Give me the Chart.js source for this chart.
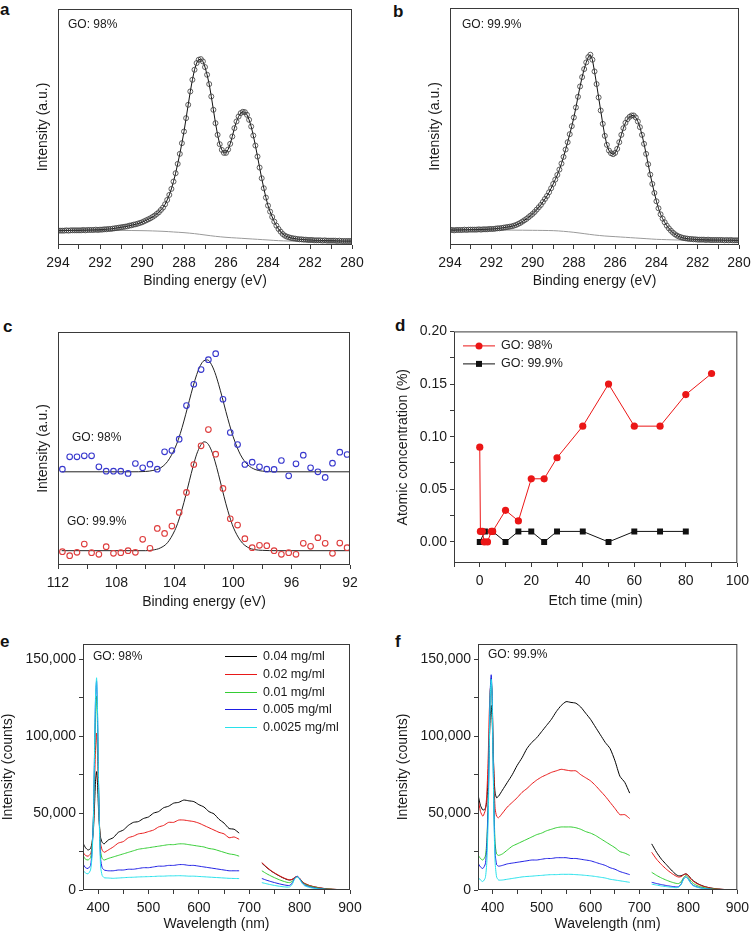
<!DOCTYPE html>
<html>
<head>
<meta charset="utf-8">
<script src="https://cdn.jsdelivr.net/npm/chart.js@4.4.1/dist/chart.umd.min.js"></script>
<style>
  body { margin: 0; background: #fff; }
  #fig { position: relative; width: 755px; height: 936px; overflow: hidden; }
  canvas { position: absolute; }
  .lbl { position: absolute; font: bold 17px 'Liberation Sans', Arial, sans-serif; line-height: 17px; color: #111; }
</style>
</head>
<body>
<div id="fig">
  <div class="lbl" style="left:0;top:1px">a</div>
  <div class="lbl" style="left:393px;top:3px">b</div>
  <div class="lbl" style="left:3px;top:318px">c</div>
  <div class="lbl" style="left:395px;top:317px">d</div>
  <div class="lbl" style="left:0;top:633px">e</div>
  <div class="lbl" style="left:395px;top:633px">f</div>
  <canvas id="ca" width="340" height="290" style="left:35px;top:0"></canvas>
  <canvas id="cb" width="328" height="290" style="left:427px;top:0"></canvas>
  <canvas id="cc" width="340" height="291" style="left:35px;top:320px"></canvas>
  <canvas id="cd" width="360" height="290" style="left:395px;top:320px"></canvas>
  <canvas id="ce" width="380" height="303" style="left:0;top:630px"></canvas>
  <canvas id="cf" width="360" height="303" style="left:395px;top:630px"></canvas>
</div>
<script>
// ---- a / b : C 1s XPS (binding energy grid, 0.1 eV) ----
const beGrid = [
  294,293.9,293.8,293.7,293.6,293.5,293.4,293.3,293.2,293.1,
  293,292.9,292.8,292.7,292.6,292.5,292.4,292.3,292.2,292.1,
  292,291.9,291.8,291.7,291.6,291.5,291.4,291.3,291.2,291.1,
  291,290.9,290.8,290.7,290.6,290.5,290.4,290.3,290.2,290.1,
  290,289.9,289.8,289.7,289.6,289.5,289.4,289.3,289.2,289.1,
  289,288.9,288.8,288.7,288.6,288.5,288.4,288.3,288.2,288.1,
  288,287.9,287.8,287.7,287.6,287.5,287.4,287.3,287.2,287.1,
  287,286.9,286.8,286.7,286.6,286.5,286.4,286.3,286.2,286.1,
  286,285.9,285.8,285.7,285.6,285.5,285.4,285.3,285.2,285.1,
  285,284.9,284.8,284.7,284.6,284.5,284.4,284.3,284.2,284.1,
  284,283.9,283.8,283.7,283.6,283.5,283.4,283.3,283.2,283.1,
  283,282.9,282.8,282.7,282.6,282.5,282.4,282.3,282.2,282.1,
  282,281.9,281.8,281.7,281.6,281.5,281.4,281.3,281.2,281.1,
  281,280.9,280.8,280.7,280.6,280.5,280.4,280.3,280.2,280.1,
  280];
const aC1s = [
  0.43,0.43,0.43,0.43,0.44,0.43,0.44,0.44,0.44,0.44,
  0.44,0.44,0.45,0.44,0.45,0.45,0.45,0.45,0.46,0.45,
  0.46,0.46,0.47,0.47,0.48,0.48,0.49,0.50,0.51,0.52,
  0.53,0.54,0.55,0.56,0.58,0.59,0.61,0.62,0.64,0.66,
  0.68,0.71,0.74,0.77,0.80,0.84,0.88,0.93,0.98,1.05,
  1.12,1.22,1.35,1.50,1.68,1.90,2.15,2.43,2.73,3.05,
  3.40,3.80,4.20,4.60,4.95,5.25,5.45,5.55,5.57,5.50,
  5.33,5.10,4.82,4.45,4.05,3.65,3.30,3.02,2.85,2.76,
  2.76,2.86,3.03,3.25,3.50,3.70,3.85,3.95,3.99,3.98,
  3.90,3.75,3.55,3.28,2.98,2.65,2.32,2.00,1.70,1.42,
  1.18,1.00,0.84,0.70,0.58,0.48,0.40,0.33,0.28,0.25,
  0.23,0.21,0.20,0.19,0.18,0.17,0.17,0.16,0.16,0.15,
  0.15,0.15,0.14,0.14,0.14,0.14,0.13,0.14,0.13,0.13,
  0.13,0.13,0.13,0.12,0.13,0.12,0.12,0.12,0.12,0.12,
  0.12];
const bC1s = [
  0.45,0.45,0.44,0.45,0.45,0.45,0.45,0.46,0.45,0.46,
  0.46,0.46,0.46,0.46,0.47,0.46,0.47,0.47,0.47,0.48,
  0.48,0.48,0.49,0.50,0.50,0.51,0.52,0.53,0.54,0.55,
  0.56,0.58,0.60,0.63,0.66,0.70,0.74,0.78,0.83,0.88,
  0.93,0.99,1.06,1.13,1.20,1.29,1.38,1.47,1.58,1.70,
  1.83,1.96,2.10,2.26,2.44,2.64,2.86,3.08,3.32,3.56,
  3.82,4.12,4.44,4.75,5.03,5.27,5.47,5.63,5.70,5.55,
  5.20,4.82,4.42,4.03,3.63,3.27,3.00,2.83,2.75,2.72,
  2.76,2.88,3.08,3.30,3.50,3.66,3.77,3.84,3.88,3.88,
  3.82,3.70,3.53,3.30,3.03,2.73,2.42,2.11,1.83,1.56,
  1.31,1.10,0.92,0.79,0.68,0.58,0.50,0.43,0.37,0.32,
  0.28,0.25,0.23,0.21,0.20,0.19,0.18,0.18,0.17,0.17,
  0.16,0.16,0.16,0.16,0.15,0.16,0.15,0.15,0.15,0.15,
  0.15,0.15,0.15,0.14,0.15,0.14,0.15,0.14,0.14,0.14,
  0.14];
// background (Shirley) lines
const bgBE = [294,292,290,289,288.5,288,287.5,287,286.5,286,285.5,285,284.5,284,283.5,283,282,281,280];
const aBg = [0.44,0.44,0.43,0.41,0.39,0.37,0.34,0.30,0.26,0.23,0.21,0.19,0.17,0.15,0.13,0.12,0.11,0.10,0.10];
const bBg = [0.45,0.45,0.44,0.43,0.41,0.38,0.34,0.30,0.27,0.25,0.23,0.21,0.19,0.17,0.16,0.15,0.14,0.13,0.13];
const abTicks = [280,281,282,283,284,285,286,287,288,289,290,291,292,293,294];

// ---- c : Si 2p ----
const cBE = [111.7,111.2,110.7,110.2,109.7,109.2,108.7,108.2,107.7,107.2,106.7,106.2,105.7,105.2,104.7,104.2,103.7,103.2,102.7,102.2,
             101.7,101.2,100.7,100.2,99.7,99.2,98.7,98.2,97.7,97.2,96.7,96.2,95.7,95.2,94.7,94.2,93.7,93.2,92.7,92.2];
const c98 = [2.88,3.25,3.25,3.28,3.28,2.95,2.82,2.82,2.82,2.75,3.05,2.92,3.03,2.88,3.40,3.44,3.78,4.79,5.43,5.87,
             6.17,6.35,4.98,3.98,3.62,3.02,3.09,2.95,2.88,2.87,3.14,2.68,3.04,3.30,2.92,2.80,2.63,3.06,3.39,3.32];
const c999 = [0.40,0.28,0.38,0.63,0.37,0.32,0.55,0.35,0.37,0.43,0.38,0.77,0.50,1.10,0.95,1.17,1.58,2.18,3.02,3.58,
              4.07,3.33,2.30,1.39,1.20,0.79,0.52,0.59,0.58,0.43,0.32,0.37,0.32,0.65,0.56,0.82,0.65,0.35,0.66,0.52];
const cFitBE = [111.75,107,106,105.5,105,104.5,104,103.75,103.5,103.25,103,102.75,102.5,102.25,102,101.75,101.5,101.25,101,
                100.75,100.5,100.25,100,99.5,99,98.5,98,97,92];
const cFit98 = [2.80,2.80,2.81,2.84,2.91,3.11,3.50,3.78,4.13,4.53,4.95,5.36,5.72,5.99,6.14,6.16,6.03,5.78,5.43,
                5.03,4.61,4.21,3.85,3.31,3.01,2.87,2.82,2.80,2.80];
const cFit999 = [0.43,0.43,0.43,0.45,0.51,0.67,1.04,1.32,1.68,2.09,2.53,2.96,3.33,3.58,3.70,3.65,3.45,3.12,2.71,
                 2.27,1.84,1.46,1.14,0.73,0.53,0.46,0.44,0.43,0.43];
const cTicks = [92,94,96,98,100,102,104,106,108,110,112];

// ---- d : atomic concentration vs etch time ----
const dTime98 = [0,0.25,1,1.75,3,4.5,5,10,15,20,25,30,40,50,60,70,80,90];
const dConc98 = [0.09,0.01,0.01,0,0,0.01,0.01,0.03,0.02,0.06,0.06,0.08,0.11,0.15,0.11,0.11,0.14,0.16];
const dTime999 = [0,2,5,10,15,20,25,30,40,50,60,70,80];
const dConc999 = [0,0.01,0.01,0,0.01,0.01,0,0.01,0.01,0,0.01,0.01,0.01];
const dXTicks = [-10,0,10,20,30,40,50,60,70,80,90,100];
const dYTicks = [0,0.025,0.05,0.075,0.1,0.125,0.15,0.175,0.2];

// ---- e / f : emission spectra ----
const wl1 = [370,375,380,385,388,391,393,395,397,399,401,403,405,408,412,420,
             430,440,450,460,470,480,490,500,510,520,530,540,550,560,570,580,590,600,610,620,630,640,650,660,670,680];
const wl2 = [725,735,745,755,765,775,780,785,790,795,800,805,810,820,830,840,850,860,870,880,890,900];
const concLabels = ['0.04 mg/ml','0.02 mg/ml','0.01 mg/ml','0.005 mg/ml','0.0025 mg/ml'];
const concColors = ['#000000','rgb(232,24,24)','rgb(52,205,52)','rgb(30,30,228)','rgb(40,225,235)'];

const eBlack1 = [30500,27500,26000,27000,31000,41000,56000,72000,77000,68000,51000,40000,34000,31000,30000,32500,
  34000,37500,39000,42000,44000,44500,46500,47500,50000,51000,53500,54500,56500,57000,58500,58000,57500,55500,54000,51000,49500,46000,43500,40000,39500,37000];
const eRed1 = [24500,22500,22000,23500,28000,45000,70000,93000,102000,86000,60000,40000,30000,26000,24500,26000,
  28000,30500,31500,34000,35000,36500,37000,38000,39000,41000,42000,44000,44000,45500,45500,45000,44500,43500,42000,40500,39000,37500,36500,34000,34500,33000];
const eGreen1 = [22500,20000,19500,21000,28000,50000,85000,115000,126000,104000,66000,40000,25000,20500,19500,20500,
  21500,22500,23500,24500,25500,26500,27000,27500,28000,28500,29000,29500,29500,30000,30000,29500,29000,28500,28000,27000,26500,25500,24500,23500,23000,22000];
const eBlue1 = [17000,14500,14000,16000,25000,52000,92000,126000,136000,112000,68000,38000,20000,14500,13000,12500,
  12500,13000,13000,13500,13500,14000,14500,14500,15000,15500,15500,16000,16000,16500,16500,16000,16000,15500,15000,14500,14000,13500,13000,12500,12500,12500];
const eCyan1 = [13000,11000,10500,13000,22000,50000,92000,128000,138000,114000,66000,34000,15000,9500,8000,7800,
  7600,7800,8000,8200,8300,8500,8600,8700,8800,9000,9000,9200,9200,9300,9200,9000,9000,8800,8600,8400,8200,8000,7800,7600,7500,7400];
const eBlack2 = [17500,14500,12000,10000,8200,6800,6500,6800,8000,8800,7500,5500,4200,2800,2000,1400,900,600,400,200,100,0];
const eRed2 = [17800,14800,12200,10200,8400,7000,6600,6900,8100,8900,7600,5600,4300,2900,2000,1400,900,600,400,200,100,0];
const eGreen2 = [12500,10500,8800,7300,6000,5000,4800,5500,7500,8800,7300,5200,3800,2500,1700,1100,700,500,300,200,100,0];
const eBlue2 = [7500,6300,5300,4400,3600,3000,3000,4300,7500,9000,7400,4800,3200,2000,1300,800,500,300,200,100,50,0];
const eCyan2 = [4800,4000,3300,2700,2200,1900,2000,3500,7000,8700,7000,4300,2700,1600,1000,600,400,200,100,100,0,0];

const fBlack1 = [62000,55000,52000,53000,58000,75000,95000,112000,120000,110000,90000,72000,63000,60000,61000,65000,
  70000,75000,81000,86000,92000,96000,99000,103000,107000,111000,116000,120000,122500,122000,121500,119000,115000,111000,106000,101000,96000,92000,84000,74000,70000,63000];
const fRed1 = [60000,51000,48000,52000,62000,88000,115000,130000,135000,125000,95000,68000,53000,48000,47000,50000,
  54000,57000,60000,63500,66000,69000,71500,73500,75000,76500,77500,78500,78000,77500,77500,75000,73000,71000,68000,64500,61000,57000,53000,49000,49000,46500];
const fGreen1 = [23000,20500,19500,22000,32000,60000,98000,128000,138000,125000,85000,50000,30000,23500,22500,23500,
  26000,28500,30000,31500,33000,34500,36000,37000,38500,39500,40500,41000,41000,41000,40500,39500,38000,37000,35500,33500,31500,29500,27500,25000,24000,22500];
const fBlue1 = [17500,15000,14000,17000,28000,58000,98000,130000,140000,126000,84000,46000,24000,16500,15500,16000,
  17000,17500,18000,18500,19000,19500,19500,20000,20500,20500,21000,21000,21000,20500,20500,20000,19500,19000,18000,17000,16000,14500,13500,12000,11000,10000];
const fCyan1 = [8500,6500,5500,8000,18000,48000,90000,126000,137000,124000,80000,40000,18000,8500,6500,6500,
  7000,7500,8000,8500,8800,9000,9300,9500,9800,10000,10000,10200,10200,10200,10000,9800,9500,9200,8800,8300,7800,7000,6500,6000,5500,5000];
const fBlack2 = [30000,24500,20000,16500,13000,10000,9200,9200,10000,10500,9500,7500,6000,4000,2600,1700,1100,700,400,200,100,0];
const fRed2 = [24500,20000,16500,13500,11000,9000,8400,8700,9800,10500,9300,7200,5600,3700,2400,1600,1000,600,400,200,100,0];
const fGreen2 = [11500,9500,7800,6400,5200,4300,4200,5300,8000,9500,8000,5800,4200,2600,1700,1100,700,400,300,200,100,0];
const fBlue2 = [5000,4200,3500,2900,2400,2000,2200,3800,7200,8600,7000,4600,3000,1800,1100,700,400,300,200,100,50,0];
const fCyan2 = [3800,3200,2600,2200,1800,1500,1800,3400,6800,8300,6800,4300,2700,1600,1000,600,300,200,100,100,0,0];

const wlTicks = [400,450,500,550,600,650,700,750,800,850,900];
const intTicks = [0,25000,50000,75000,100000,125000,150000];

// ---------------------------------------------------------------
const FONT = "'Liberation Sans', Arial, Helvetica, sans-serif";
const AX = '#3a3a3a';
const TXT = '#1a1a1a';
Chart.defaults.font.family = FONT;
Chart.defaults.color = TXT;

const toPts = (xs, ys) => xs.map((x, i) => ({ x: x, y: ys[i] }));
const spectrum = (a, b) => toPts(wl1, a).concat([{ x: 700, y: null }], toPts(wl2, b));

// box around plot + in-plot texts and hand-drawn keys
const framePlugin = {
  id: 'frame',
  afterDraw(chart, args, opts) {
    const { ctx, chartArea: a } = chart;
    ctx.save();
    ctx.strokeStyle = AX;
    ctx.lineWidth = 1;
    ctx.strokeRect(a.left + 0.5, a.top + 0.5, a.right - a.left - 1, a.bottom - a.top - 1);
    ctx.fillStyle = TXT;
    ctx.textBaseline = 'middle';
    (opts.notes || []).forEach(n => {
      ctx.font = (n.size || 12) + 'px ' + FONT;
      ctx.fillText(n.text, a.left + n.dx, a.top + n.dy);
    });
    (opts.keys || []).forEach(k => {
      const y = a.top + k.dy + 0.5;
      ctx.strokeStyle = k.color;
      ctx.lineWidth = 1;
      ctx.beginPath();
      ctx.moveTo(a.left + k.dx, y);
      ctx.lineTo(a.left + k.dx + k.len, y);
      ctx.stroke();
      ctx.fillStyle = k.color;
      const mx = a.left + k.dx + k.len / 2;
      if (k.marker === 'circle') { ctx.beginPath(); ctx.arc(mx, y, 3.5, 0, Math.PI * 2); ctx.fill(); }
      if (k.marker === 'rect') ctx.fillRect(mx - 3, y - 3, 6, 6);
      ctx.fillStyle = TXT;
      ctx.font = '12.5px ' + FONT;
      ctx.fillText(k.text, a.left + k.dx + k.len + 6, y);
    });
    ctx.restore();
  }
};
Chart.register(framePlugin);

function xAxis(min, max, ticks, show, title, h, reverse) {
  return {
    type: 'linear', min: min, max: max, reverse: !!reverse,
    afterFit: s => { s.height = h; },
    afterBuildTicks: s => { s.ticks = ticks.map(v => ({ value: v })); },
    grid: { drawOnChartArea: false, tickLength: 4, color: AX },
    border: { display: false },
    ticks: { autoSkip: false, maxRotation: 0, padding: 6, color: TXT, font: { size: 14 }, callback: show },
    title: { display: true, text: title, padding: 0, color: TXT, font: { size: 14 } }
  };
}
function yAxis(min, max, ticks, show, title, w) {
  const ax = {
    type: 'linear', min: min, max: max,
    afterFit: s => { s.width = w; },
    border: { display: false },
    title: { display: true, text: title, padding: 0, color: TXT, font: { size: 14 } }
  };
  if (ticks) {
    ax.afterBuildTicks = s => { s.ticks = ticks.map(v => ({ value: v })); };
    ax.grid = { drawOnChartArea: false, tickLength: 4, color: AX };
    ax.ticks = { autoSkip: false, padding: 3, color: TXT, font: { size: 14 }, callback: show };
  } else {
    ax.grid = { display: false };
    ax.ticks = { display: false };
  }
  return ax;
}
function makeChart(id, datasets, scales, padding, frame) {
  return new Chart(document.getElementById(id), {
    type: 'line',
    data: { datasets: datasets },
    options: {
      responsive: false, animation: false, events: [],
      layout: { padding: padding },
      plugins: { legend: { display: false }, tooltip: { enabled: false }, frame: frame },
      scales: scales
    }
  });
}

const evenLabel = v => (v % 2 === 0 ? String(v) : '');

// a, b
function xpsSets(vals, bg) {
  return [
    { data: toPts(beGrid, vals), borderColor: '#111', borderWidth: 1, pointStyle: 'circle', pointRadius: 2.5,
      pointBorderColor: '#383838', pointBorderWidth: 0.8, pointBackgroundColor: 'rgba(0,0,0,0)', tension: 0 },
    { data: toPts(bgBE, bg), borderColor: '#9a9a9a', borderWidth: 1, pointRadius: 0, tension: 0.3 }
  ];
}
makeChart('ca', xpsSets(aC1s, aBg), {
  x: xAxis(280, 294, abTicks, evenLabel, 'Binding energy (eV)', 45, true),
  y: yAxis(0, 7.07, null, null, 'Intensity (a.u.)', 23)
}, { left: 0, top: 9, right: 23, bottom: 0 }, { notes: [{ text: 'GO: 98%', dx: 10, dy: 16 }] });

makeChart('cb', xpsSets(bC1s, bBg), {
  x: xAxis(280, 294, abTicks, evenLabel, 'Binding energy (eV)', 45, true),
  y: yAxis(0, 7.1, null, null, 'Intensity (a.u.)', 23)
}, { left: 0, top: 8, right: 16, bottom: 0 }, { notes: [{ text: 'GO: 99.9%', dx: 12, dy: 17 }] });

// c
const ring = c => ({ showLine: false, pointStyle: 'circle', pointRadius: 2.8, pointBorderWidth: 1.1,
  pointBorderColor: c, pointBackgroundColor: 'rgba(0,0,0,0)' });
makeChart('cc', [
  Object.assign({ data: toPts(cBE, c98) }, ring('rgb(55,55,205)')),
  Object.assign({ data: toPts(cBE, c999) }, ring('rgb(222,60,60)')),
  { data: toPts(cFitBE, cFit98), borderColor: '#222', borderWidth: 1, pointRadius: 0, cubicInterpolationMode: 'monotone' },
  { data: toPts(cFitBE, cFit999), borderColor: '#222', borderWidth: 1, pointRadius: 0, cubicInterpolationMode: 'monotone' }
], {
  x: xAxis(92, 112, cTicks, v => (v % 4 === 0 ? String(v) : ''), 'Binding energy (eV)', 46, true),
  y: yAxis(0, 7, null, null, 'Intensity (a.u.)', 23)
}, { left: 0, top: 12, right: 25, bottom: 0 }, {
  notes: [{ text: 'GO: 98%', dx: 14, dy: 106 }, { text: 'GO: 99.9%', dx: 9, dy: 190 }]
});

// d
makeChart('cd', [
  { data: toPts(dTime98, dConc98), borderColor: 'rgb(235,22,22)', backgroundColor: 'rgb(235,22,22)', borderWidth: 1,
    pointStyle: 'circle', pointRadius: 3.6, pointBorderWidth: 0 },
  { data: toPts(dTime999, dConc999), borderColor: '#111', backgroundColor: '#111', borderWidth: 1,
    pointStyle: 'rect', pointRadius: 4.2, pointBorderWidth: 0 }
], {
  x: xAxis(-10, 100, dXTicks, v => (v % 20 === 0 ? String(v) : ''), 'Etch time (min)', 47),
  y: yAxis(-0.02, 0.2, dYTicks, v => (Math.round(v * 1000) % 50 === 0 ? v.toFixed(2) : ''), 'Atomic concentration (%)', 59)
}, { left: 0, top: 10, right: 12, bottom: 0 }, {
  keys: [
    { color: 'rgb(235,22,22)', marker: 'circle', text: 'GO: 98%', dx: 9, dy: 14, len: 32 },
    { color: '#111', marker: 'rect', text: 'GO: 99.9%', dx: 9, dy: 32, len: 32 }
  ]
});

// e, f
function specSets(parts) {
  // draw order: dataset 0 on top -> lowest concentration first
  const order = [4, 3, 2, 1, 0];
  return order.map(i => ({ data: spectrum(parts[i][0], parts[i][1]), borderColor: concColors[i], borderWidth: 1,
    pointRadius: 0, tension: 0.2, spanGaps: false }));
}
const wlLabel = v => (v % 100 === 0 ? String(v) : '');
const intLabel = v => (v % 50000 === 0 ? v.toLocaleString('en-US') : '');

makeChart('ce', specSets([[eBlack1, eBlack2], [eRed1, eRed2], [eGreen1, eGreen2], [eBlue1, eBlue2], [eCyan1, eCyan2]]), {
  x: xAxis(370, 900, wlTicks, wlLabel, 'Wavelength (nm)', 43),
  y: yAxis(0, 160000, intTicks, intLabel, 'Intensity (counts)', 83)
}, { left: 0, top: 14, right: 30, bottom: 0 }, {
  notes: [{ text: 'GO: 98%', dx: 10, dy: 13 }],
  keys: concLabels.map((t, i) => ({ color: concColors[i], text: t, dx: 142, dy: [12, 30, 48, 65, 83][i], len: 32 }))
});

makeChart('cf', specSets([[fBlack1, fBlack2], [fRed1, fRed2], [fGreen1, fGreen2], [fBlue1, fBlue2], [fCyan1, fCyan2]]), {
  x: xAxis(370, 900, wlTicks, wlLabel, 'Wavelength (nm)', 43),
  y: yAxis(0, 160000, intTicks, intLabel, 'Intensity (counts)', 83)
}, { left: 0, top: 14, right: 12, bottom: 0 }, {
  notes: [{ text: 'GO: 99.9%', dx: 10, dy: 11 }]
});
</script>
</body>
</html>
